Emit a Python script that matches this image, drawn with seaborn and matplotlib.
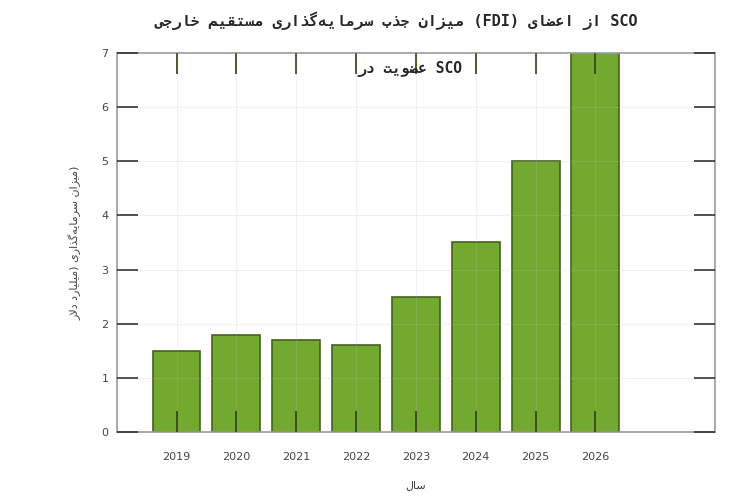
import numpy as np
import pandas as pd
import seaborn as sns
import matplotlib.pyplot as plt

# data
years = ["2019", "2020", "2021", "2022", "2023", "2024", "2025", "2026"]
fdi = [1.5, 1.8, 1.7, 1.6, 2.5, 3.5, 5.0, 7.0]
y_ticks = [0, 1, 2, 3, 4, 5, 6, 7]

title_text = "میزان جذب سرمایه‌گذاری مستقیم خارجی (FDI) از اعضای SCO"
note_text = "عضویت در SCO"
ylabel_text = "میزان سرمایه‌گذاری (میلیارد دلار)"
xlabel_text = "سال"

# matplotlib has no arabic shaping, so map letters to presentation forms
# (isolated, final, initial, medial); None = letter does not join forward
FORMS = {
    "ا": ("\uFE8D", "\uFE8E", None, None),
    "ب": ("\uFE8F", "\uFE90", "\uFE91", "\uFE92"),
    "ت": ("\uFE95", "\uFE96", "\uFE97", "\uFE98"),
    "ج": ("\uFE9D", "\uFE9E", "\uFE9F", "\uFEA0"),
    "خ": ("\uFEA5", "\uFEA6", "\uFEA7", "\uFEA8"),
    "د": ("\uFEA9", "\uFEAA", None, None),
    "ذ": ("\uFEAB", "\uFEAC", None, None),
    "ر": ("\uFEAD", "\uFEAE", None, None),
    "ز": ("\uFEAF", "\uFEB0", None, None),
    "س": ("\uFEB1", "\uFEB2", "\uFEB3", "\uFEB4"),
    "ض": ("\uFEBD", "\uFEBE", "\uFEBF", "\uFEC0"),
    "ع": ("\uFEC9", "\uFECA", "\uFECB", "\uFECC"),
    "ق": ("\uFED5", "\uFED6", "\uFED7", "\uFED8"),
    "ل": ("\uFEDD", "\uFEDE", "\uFEDF", "\uFEE0"),
    "م": ("\uFEE1", "\uFEE2", "\uFEE3", "\uFEE4"),
    "ن": ("\uFEE5", "\uFEE6", "\uFEE7", "\uFEE8"),
    "ه": ("\uFEE9", "\uFEEA", "\uFEEB", "\uFEEC"),
    "و": ("\uFEED", "\uFEEE", None, None),
    "ی": ("\uFEEF", "\uFEF0", "\uFEF3", "\uFEF4"),
    "گ": ("\uFB92", "\uFB93", "\uFB94", "\uFB95"),
}
MIRROR = str.maketrans("()", ")(")


def shape(text):
    chars = [c for c in text]
    out = []
    i = 0
    while i < len(chars):
        c = chars[i]
        if c not in FORMS:
            if c != "\u200c":
                out.append(c)
            i += 1
            continue
        prev = chars[i - 1] if i > 0 else ""
        joins_prev = prev in FORMS and FORMS[prev][2] is not None
        # lam + alef ligature
        if c == "ل" and i + 1 < len(chars) and chars[i + 1] == "ا":
            out.append("\uFEFC" if joins_prev else "\uFEFB")
            i += 2
            continue
        nxt = chars[i + 1] if i + 1 < len(chars) else ""
        joins_next = FORMS[c][2] is not None and nxt in FORMS
        if joins_prev and joins_next:
            out.append(FORMS[c][3])
        elif joins_prev:
            out.append(FORMS[c][1])
        elif joins_next:
            out.append(FORMS[c][2])
        else:
            out.append(FORMS[c][0])
        i += 1
    return "".join(out)


def is_rtl(c):
    return "\u0600" <= c <= "\u06ff" or "\ufb50" <= c <= "\ufeff"


def fa(text):
    # shape, then lay out right-to-left runs inside a left-to-right line
    s = shape(text)
    out = []
    i = 0
    while i < len(s):
        if is_rtl(s[i]):
            j = i
            last = i
            while j < len(s) and (is_rtl(s[j]) or s[j] in " ()"):
                if is_rtl(s[j]):
                    last = j
                j += 1
            out.append(s[i:last + 1][::-1].translate(MIRROR))
            i = last + 1
        else:
            out.append(s[i])
            i += 1
    return "".join(out)


df = pd.DataFrame({"year": years, "fdi": fdi})

sns.set_style("white")
plt.rcParams["font.family"] = ["DejaVu Sans"]

fig = plt.figure(figsize=(7.48, 5.03), dpi=100)
ax = fig.add_axes([0.156, 0.141, 0.8, 0.754])

sns.barplot(data=df, x="year", y="fdi", color="#74a92f", width=0.8,
            edgecolor="#43621f", linewidth=1.2, saturation=1, ax=ax)

ax.set_xlim(-1, 9)
ax.set_ylim(0, 7)
ax.set_yticks(y_ticks)
# grid and ticks sit on top of the bars, like in the reference
ax.set_axisbelow(False)
ax.grid(True, color="#bdbdbd", linestyle="-", linewidth=0.5, alpha=0.3)

for sp in ax.spines.values():
    sp.set_color("#9a9a9a")
    sp.set_linewidth(1.2)

ax.tick_params(axis="both", direction="in", length=15, width=1.2, color="#333333",
               labelsize=8, labelcolor="#444444",
               top=True, right=True, bottom=True, left=True)
ax.tick_params(axis="x", color="#2b4212", pad=14)
ax.tick_params(axis="y", pad=6)
for t in ax.xaxis.get_major_ticks():
    t.tick2line.set_color("#222222")

ax.set_xlabel(fa(xlabel_text), fontsize=8, color="#444444", labelpad=13)
ax.set_ylabel(fa(ylabel_text), fontsize=8, color="#444444", labelpad=14)

fig.text(0.53, 0.958, fa(title_text), ha="center", va="center", fontsize=11,
         fontweight="bold", family=["DejaVu Sans Mono", "DejaVu Sans"])
ax.text(3.9, 6.7, fa(note_text), ha="center", va="center", fontsize=10.5,
        fontweight="bold", family=["DejaVu Sans Mono", "DejaVu Sans"], zorder=5)

plt.savefig("out.png", dpi=100)
